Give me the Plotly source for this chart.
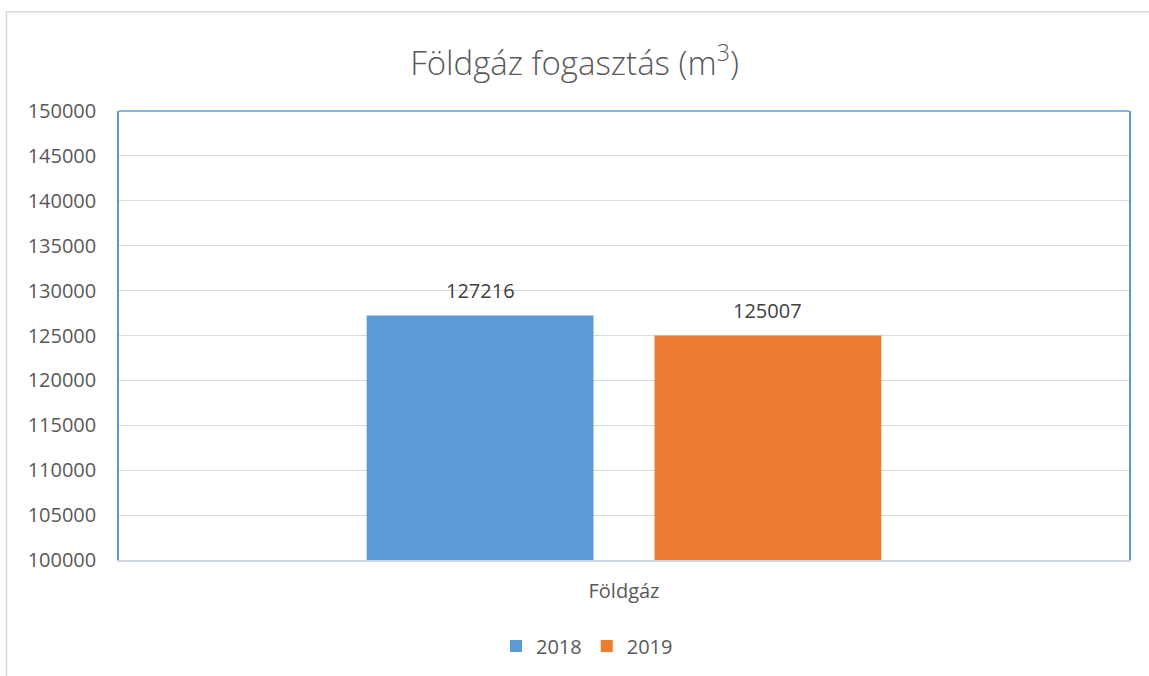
import plotly.graph_objects as go

categories = ["Földgáz"]
series_names = ["2018", "2019"]
values_2018 = [127216]
values_2019 = [125007]
y_ticks = [100000, 105000, 110000, 115000, 120000, 125000, 130000, 135000, 140000, 145000, 150000]

colors = {"2018": "#5B9BD5", "2019": "#ED7D31"}
FONT = "Open Sans"

L, R, T, B = 119, 20, 111, 115
W, H = 1149, 676
pw, ph = W - L - R, H - T - B
BARGAP, BARGROUPGAP = 0.43, 0.212
slot_px = (1 - BARGAP) / len(series_names) * pw

fig = go.Figure()
annotations = []
for i, (name, vals) in enumerate(zip(series_names, [values_2018, values_2019])):
    fig.add_trace(go.Bar(
        x=categories, y=vals, name=name,
        marker=dict(color=colors[name], line=dict(width=0)),
    ))
    offset = (i - (len(series_names) - 1) / 2) * slot_px
    for c, v in zip(categories, vals):
        annotations.append(dict(
            x=c, y=v, xref="x", yref="y", text=str(v), showarrow=False,
            xshift=offset, yshift=25, yanchor="middle",
            font=dict(family=FONT, size=20, color="#404040"),
        ))

fig.update_layout(
    width=W, height=H,
    margin=dict(l=L, r=R, t=T, b=B),
    paper_bgcolor="white", plot_bgcolor="white",
    barmode="group", bargap=BARGAP, bargroupgap=BARGROUPGAP,
    title=dict(text="Földgáz fogasztás (m<sup>3</sup>)", x=0.5, xanchor="center",
               y=1 - 63 / H, yanchor="middle",
               font=dict(family=FONT, size=33, color="#595959", weight=300)),
    font=dict(family=FONT, color="#595959"),
    legend=dict(orientation="h", x=(587 - L) / pw, xanchor="center",
                y=-(646 - (T + ph)) / ph, yanchor="middle",
                font=dict(family=FONT, size=20, color="#595959"),
                itemwidth=30, tracegroupgap=0),
    xaxis=dict(showline=True, linecolor="#CCD5E0", linewidth=1.5,
               showgrid=False, ticks="", ticklabelstandoff=12,
               tickfont=dict(family=FONT, size=20, color="#595959")),
    yaxis=dict(range=[100000, 150000], tickvals=y_ticks, tickformat="d",
               showgrid=True, gridcolor="#D9D9D9", gridwidth=1,
               showline=True, linecolor="#5B9BD5", linewidth=1.5, mirror=True,
               ticks="", ticklabelstandoff=17, zeroline=False,
               tickfont=dict(family=FONT, size=20, color="#595959")),
    annotations=annotations,
    shapes=[
        dict(type="line", xref="paper", yref="paper", x0=0, x1=1, y0=1, y1=1,
             line=dict(color="#5B9BD5", width=1.5)),
        dict(type="rect", xref="paper", yref="paper",
             x0=(6.5 - L) / pw, x1=1.1, y0=-0.4, y1=1 + (T - 11.5) / ph,
             line=dict(color="#D9D9D9", width=1.5), layer="below"),
    ],
)

fig.write_html("out.html", config={"displayModeBar": False},
               post_script="document.body.style.margin='0';")
